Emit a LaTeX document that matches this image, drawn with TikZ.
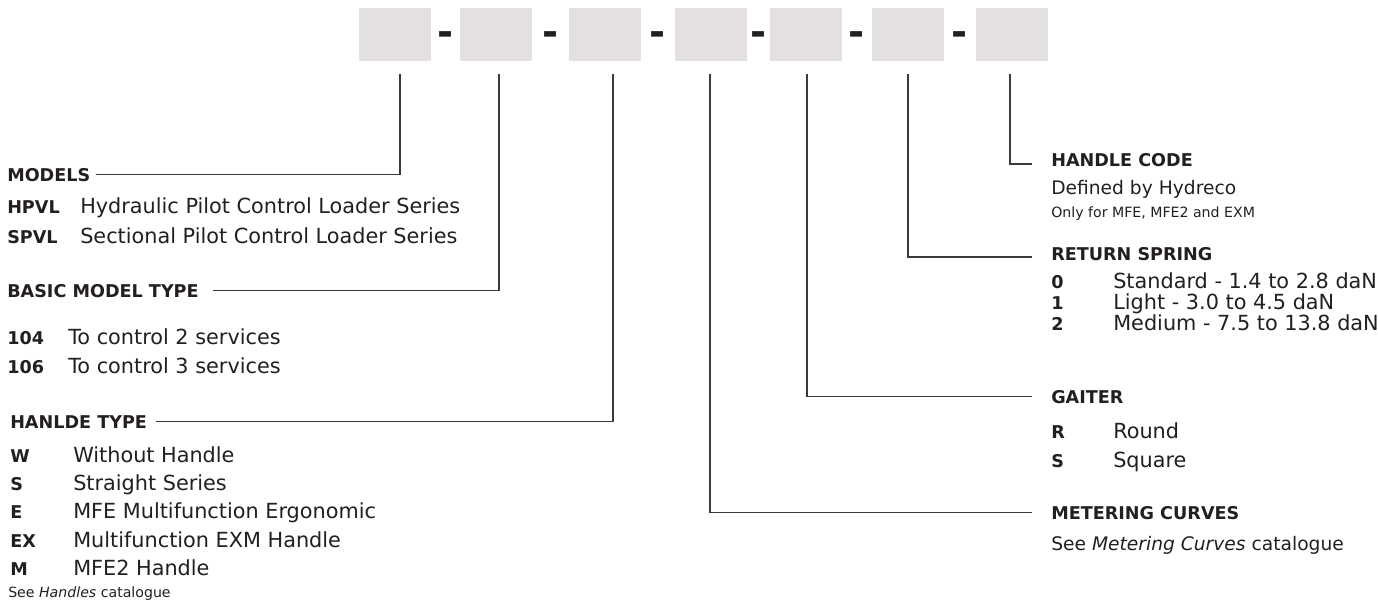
\documentclass[tikz,border=0pt]{standalone}
\usepackage{fontspec}
\setmainfont{DejaVu Sans}
\definecolor{slotc}{HTML}{E4E0E0}
\definecolor{inkc}{HTML}{231F20}
\definecolor{linec}{HTML}{3A3A3A}
\tikzset{
  slot/.style={fill=slotc,minimum width=54pt,minimum height=39.75pt,inner sep=0pt},
  hyph/.style={font=\fontsize{29}{29}\selectfont\bfseries,text=inkc,inner sep=0pt,yshift=-3.3pt},
  lead/.style={draw=linec,line width=0.9pt},
  head/.style={font=\fontsize{13.2}{15}\selectfont\bfseries,text=inkc,inner sep=0pt,anchor=base west},
  key/.style={head},
  item/.style={font=\fontsize{15.6}{18}\selectfont,text=inkc,inner sep=0pt,anchor=base west},
  desc/.style={item,font=\fontsize{14}{16}\selectfont},
  note/.style={item,font=\fontsize{10.6}{12}\selectfont}
}
\begin{document}
\begin{tikzpicture}[x=0.75pt,y=-0.75pt]
\useasboundingbox (0,0) rectangle (1378,601);
% code slots and separators
\foreach \i/\x in {1/395,2/496,3/605,4/711,5/806,6/908,7/1012}{\node[slot] (b\i) at (\x,34.5) {};}
\foreach \i/\j in {1/2,2/3,3/4,4/5,5/6,6/7}{\path (b\i) -- (b\j) node[midway,hyph] (d\i) {-};}
\foreach \i/\x in {1/400,2/499,3/613,4/710,5/807,6/908,7/1010}{\coordinate (t\i) at (\x,74);}
% left side
\node[head] (models) at (7,181) {MODELS};
\node[key] (hpvl) at (7,213) {HPVL};
\node[item] (hpvlv) at (80,213) {Hydraulic Pilot Control Loader Series};
\node[key] (spvl) at (7,243) {SPVL};
\node[item] (spvlv) at (80,243) {Sectional Pilot Control Loader Series};
\node[head] (basic) at (7,297) {BASIC MODEL TYPE};
\node[key] (b104) at (7,344) {104};
\node[item] (b104v) at (68,344) {To control 2 services};
\node[key] (b106) at (7,373) {106};
\node[item] (b106v) at (68,373) {To control 3 services};
\node[head] (htype) at (10,428) {HANLDE TYPE};
\foreach \k/\v/\y [count=\n] in {W/Without Handle/462,S/Straight Series/490,E/MFE Multifunction Ergonomic/518,EX/Multifunction EXM Handle/547,M/MFE2 Handle/575}{
  \node[key] (hk\n) at (10,\y) {\k};
  \node[item] (hv\n) at (73,\y) {\v};
}
\node[note] (hsee) at (8,597) {See \textit{Handles} catalogue};
% right side
\node[head] (code) at (1051,166) {HANDLE CODE};
\node[desc] (coded) at (1051,194) {Defined by Hydreco};
\node[note] (coden) at (1051,217) {Only for MFE, MFE2 and EXM};
\node[head] (spring) at (1051,260) {RETURN SPRING};
\foreach \k/\v/\y in {0/Standard - 1.4 to 2.8 daN/288,1/Light - 3.0 to 4.5 daN/309,2/Medium - 7.5 to 13.8 daN/330}{
  \node[key] (sk\k) at (1051,\y) {\k};
  \node[item] (sv\k) at (1113,\y) {\v};
}
\node[head] (gaiter) at (1051,403) {GAITER};
\node[key] (gkr) at (1051,438) {R};
\node[item] (gvr) at (1113,438) {Round};
\node[key] (gks) at (1051,467) {S};
\node[item] (gvs) at (1113,467) {Square};
\node[head] (meter) at (1051,519) {METERING CURVES};
\node[desc] (meterd) at (1051,550) {See \textit{Metering Curves} catalogue};
% leaders
\draw[lead] (t1) |- ([xshift=3.75pt]models.east);
\draw[lead] (t2) |- ([xshift=10.5pt]basic.east);
\draw[lead] (t3) |- ([xshift=6.2pt]htype.east);
\draw[lead] (t4) |- ([xshift=-14.25pt]meter.west);
\draw[lead] (t5) |- ([xshift=-14.25pt]gaiter.west);
\draw[lead] (t6) |- ([xshift=-14.25pt,yshift=-2.5pt]spring.west);
\draw[lead] (t7) |- ([xshift=-14.25pt,yshift=-3.3pt]code.west);
\end{tikzpicture}
\end{document}
